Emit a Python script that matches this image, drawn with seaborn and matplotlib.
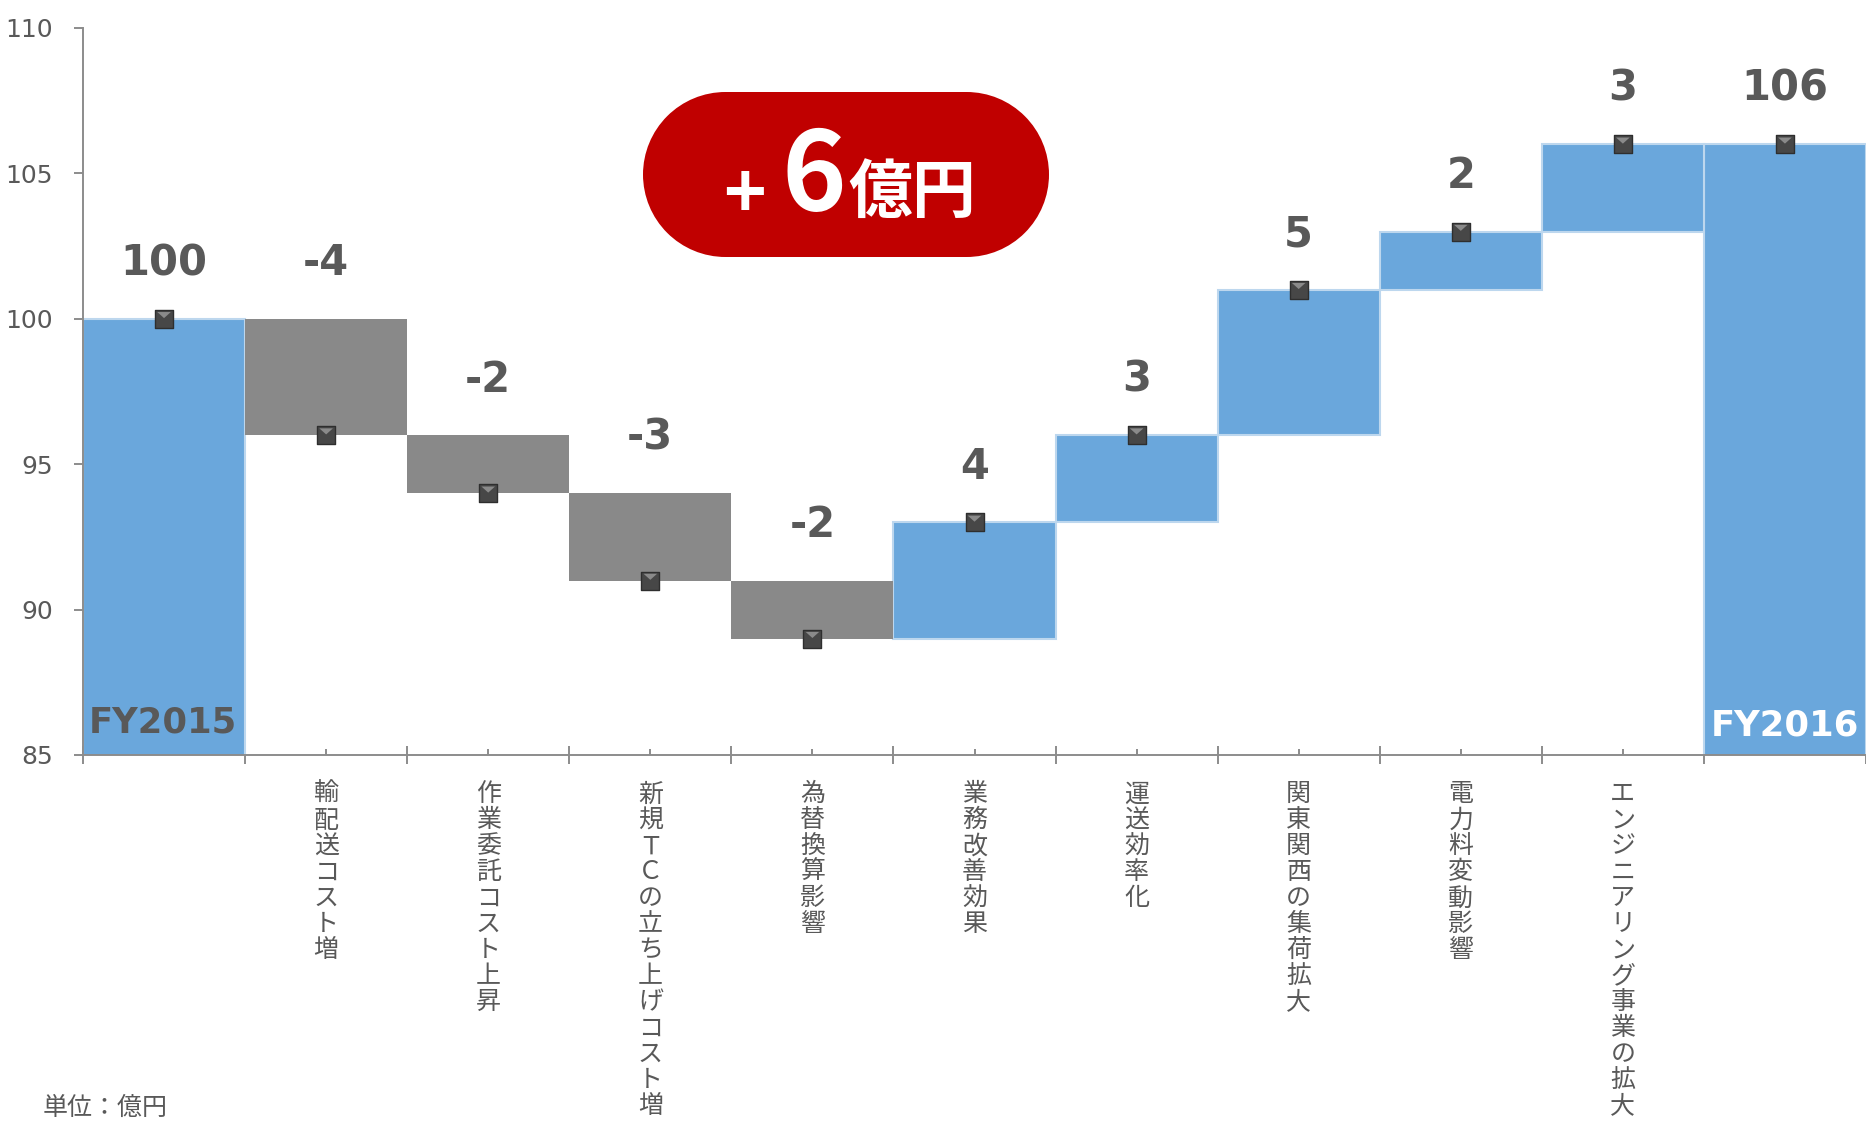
import numpy as np
import pandas as pd
import matplotlib
matplotlib.use("Agg")
import matplotlib.pyplot as plt
import seaborn as sns
from matplotlib.patches import Rectangle, Circle
from matplotlib.ticker import NullFormatter

# ---------------- data ----------------
categories = ["FY2015", "輸配送コスト増", "作業委託コスト上昇", "新規ＴＣの立ち上げコスト増",
              "為替換算影響", "業務改善効果", "運送効率化", "関東関西の集荷拡大",
              "電力料変動影響", "エンジニアリング事業の拡大", "FY2016"]
values = [100, -4, -2, -3, -2, 4, 3, 5, 2, 3, 106]
kinds = ["total", "decrease", "decrease", "decrease", "decrease",
         "increase", "increase", "increase", "increase", "increase", "total"]
value_labels = ["100", "-4", "-2", "-3", "-2", "4", "3", "5", "2", "3", "106"]
y_ticks = [85, 90, 95, 100, 105, 110]
y_range = (85, 110)
total_change_label = ("+", "6", "億円")
unit_label = "単位：億円"

# ---------------- colours ----------------
BLUE = "#6AA7DC"
BLUE_EDGE = "#BDD7EE"
GREY = "#898989"
TEXT = "#595959"
AXIS = "#8C8C8C"
RED = "#C00000"
palette = {"total": BLUE, "increase": BLUE, "decrease": GREY}

# ---------------- waterfall geometry from data ----------------
bottoms, tops, ends = [], [], []
running = 0
for v, k in zip(values, kinds):
    if k == "total":
        bottoms.append(0); tops.append(v); ends.append(v); running = v
    else:
        new = running + v
        bottoms.append(min(running, new)); tops.append(max(running, new))
        ends.append(new); running = new

df = pd.DataFrame({"cat": categories, "top": tops, "kind": kinds})

sns.set_style("white")
plt.rcParams["font.family"] = ["DejaVu Sans", "Noto Sans CJK JP"]

W, H = 1866, 1125
fig = plt.figure(figsize=(W / 100, H / 100), dpi=100)
ax = fig.add_axes([83 / W, (H - 755) / H, (W - 83) / W, 727 / H])

sns.barplot(data=df, x="cat", y="top", hue="kind", order=categories,
            hue_order=["total", "increase", "decrease"], palette=palette,
            dodge=False, width=1.0, legend=False, saturation=1, ax=ax,
            linewidth=0)

n = len(categories)
for p in ax.patches:
    idx = int(round(p.get_x() + p.get_width() / 2))
    p.set_y(bottoms[idx])
    p.set_height(tops[idx] - bottoms[idx])
    if kinds[idx] in ("total", "increase"):
        p.set_edgecolor(BLUE_EDGE)
        p.set_linewidth(1.5)
    else:
        p.set_edgecolor("none")

positions = np.arange(n)
sns.scatterplot(x=positions, y=ends, marker="s", s=150, color="#474747",
                edgecolor="#2E2E2E", linewidth=1, zorder=5, legend=False, ax=ax,
                clip_on=False)
tri = [(-1, 1), (1, 1), (0, 0.1), (-1, 1)]
sns.scatterplot(x=positions, y=ends, marker=tri, s=95, color="#8A8A8A",
                edgecolor="none", linewidth=0, zorder=6, legend=False, ax=ax,
                clip_on=False)

# value labels
for i in range(n):
    ax.annotate(value_labels[i], xy=(positions[i], tops[i]), xytext=(0, 40),
                textcoords="offset points", ha="center", va="center",
                fontsize=30, fontweight="bold", color=TEXT,
                family="DejaVu Sans")

# FY labels inside total bars
ax.annotate(categories[0], xy=(positions[0], y_range[0]), xytext=(-1, 16),
            textcoords="offset points", ha="center", va="baseline",
            fontsize=25.5, fontweight="bold", color=TEXT)
ax.annotate(categories[-1], xy=(positions[-1], y_range[0]), xytext=(0, 14),
            textcoords="offset points", ha="center", va="baseline",
            fontsize=25.5, fontweight="bold", color="white")

# axes
ax.set_xlim(-0.5, n - 0.5)
ax.set_ylim(*y_range)
ax.set_yticks(y_ticks)
ax.set_xlabel(""); ax.set_ylabel("")
for s in ("top", "right"):
    ax.spines[s].set_visible(False)
for s in ("left", "bottom"):
    ax.spines[s].set_color(AXIS)
    ax.spines[s].set_linewidth(1.4)

ax.set_xticks(np.arange(-0.5, n, 1.0))
ax.xaxis.set_major_formatter(NullFormatter())
ax.set_xticks(positions, minor=True)
vert = ["" if k == "total" else "\n".join(c) for c, k in zip(categories, kinds)]
ax.set_xticklabels(vert, minor=True, family=["Noto Sans CJK JP"], fontsize=18,
                   color=TEXT, linespacing=1.0, va="top")
ax.tick_params(axis="x", which="major", direction="inout", length=13, width=1.4,
               color=AXIS, bottom=True)
ax.tick_params(axis="x", which="minor", direction="in", length=4.5, width=1.4,
               color=AXIS, pad=19, bottom=True)
ax.tick_params(axis="y", which="major", direction="out", length=6.5, width=1.4,
               color=AXIS, pad=15, labelsize=18, labelcolor=TEXT, left=True)

# red pill with total change (true semicircular ends)
px0, pw, ph = 6.43, 4.06, 1.65
py0 = H / 100 - 2.57
r = ph / 2
for art in (Rectangle((px0 + r, py0), pw - 2 * r, ph),
            Circle((px0 + r, py0 + r), r),
            Circle((px0 + pw - r, py0 + r), r)):
    art.set_transform(fig.dpi_scale_trans)
    art.set_facecolor(RED)
    art.set_edgecolor("none")
    art.set_zorder(10)
    fig.add_artist(art)

fig.text(7.44, H / 100 - 1.97, total_change_label[0], transform=fig.dpi_scale_trans,
         ha="center", va="center", fontsize=52, fontweight="bold", color="white",
         family=["Noto Sans CJK JP"], zorder=11)
fig.text(8.14, H / 100 - 1.785, total_change_label[1], transform=fig.dpi_scale_trans,
         ha="center", va="center", fontsize=79, fontweight="bold", color="white",
         family=["Noto Sans CJK JP"], zorder=11)
fig.text(9.12, H / 100 - 1.935, total_change_label[2], transform=fig.dpi_scale_trans,
         ha="center", va="center", fontsize=46, fontweight="bold", color="white",
         family=["Noto Sans CJK JP"], zorder=11)

fig.text(43 / W, 17 / H, unit_label, ha="left", va="center", fontsize=18,
         color=TEXT, family=["Noto Sans CJK JP"])

fig.savefig("out.png", dpi=100)
